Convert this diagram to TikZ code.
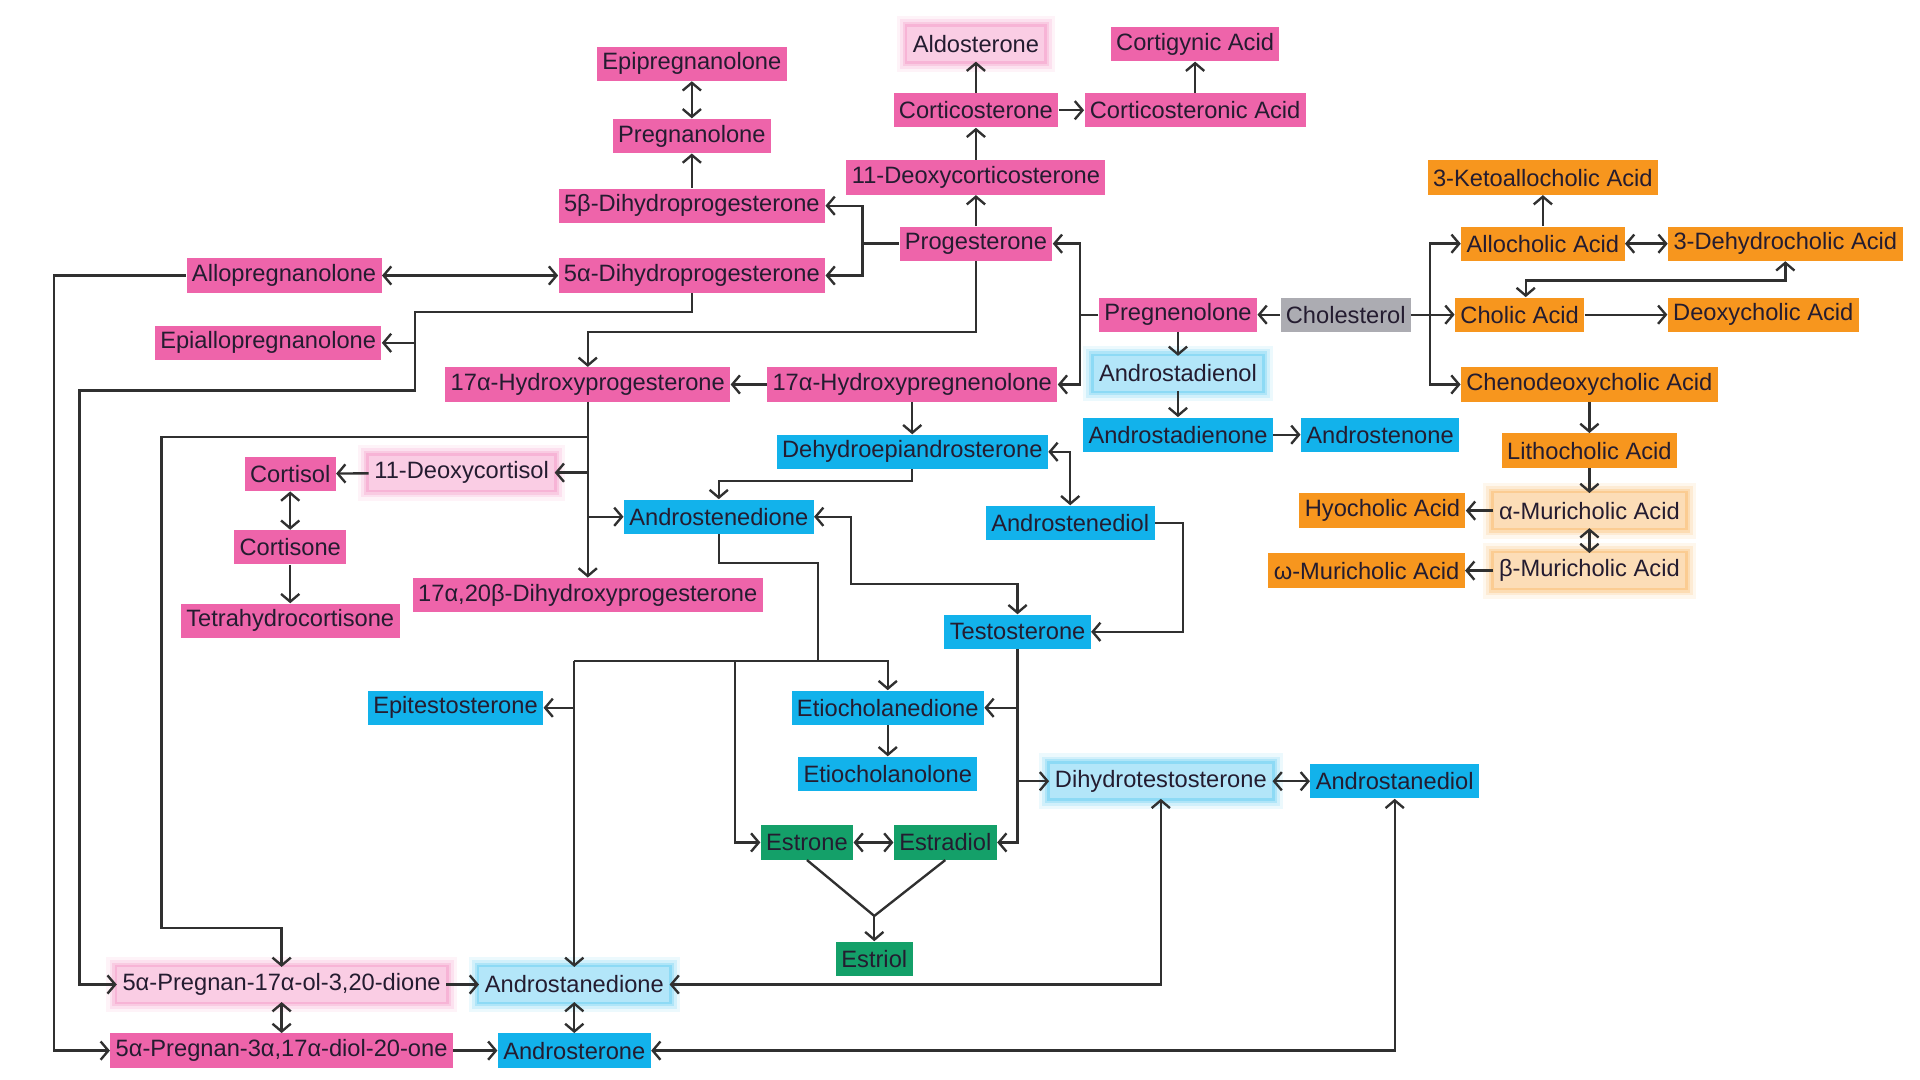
\documentclass[tikz,border=0pt]{standalone}
\usepackage{fontspec}
\setmainfont{Liberation Sans}
\usetikzlibrary{arrows.meta}
\definecolor{pinkc}{RGB}{238,100,170}
\definecolor{bluec}{RGB}{18,178,235}
\definecolor{orangec}{RGB}{247,150,30}
\definecolor{greenc}{RGB}{20,160,105}
\definecolor{grayc}{RGB}{172,172,178}
\definecolor{txtc}{RGB}{36,28,48}
\definecolor{linec}{RGB}{48,48,48}

\begin{document}
\begin{tikzpicture}[
        x = 0.02cm, y = -0.02cm,
        box/.style = {
            fill = #1,
            text = txtc,
            minimum height = 0.56cm,
            inner xsep = 2.5pt,
            inner ysep = 0pt,
            font = \fontsize{11}{13}\selectfont
        },
        glow/.style = {
            box = #1!32,
            preaction = {draw = #1, line width = 10pt, opacity = 0.08, rounded corners = 5pt},
            preaction = {draw = #1, line width = 7pt, opacity = 0.12, rounded corners = 4pt},
            preaction = {draw = #1, line width = 4.5pt, opacity = 0.18, rounded corners = 3pt},
            preaction = {draw = #1, line width = 2.5pt, opacity = 0.22, rounded corners = 2pt}
        },
        pk/.style = {box = pinkc},
        bl/.style = {box = bluec},
        orng/.style = {box = orangec},
        gn/.style = {box = greenc},
        gy/.style = {box = grayc},
        link/.style = {draw = linec, line width = 1.1pt},
        > = {Straight Barb[length=3.6pt, width=8.5pt]}
        ]
        \useasboundingbox (0,0) rectangle (1568,882);
%
        \node[pk] (epipreg) at (565,52) {Epipregnanolone};
        \node[pk] (pregnan) at (565,111) {Pregnanolone};
        \node[pk] (dhp5b) at (565,168) {5β-Dihydroprogesterone};
        \node[pk] (dhp5a) at (565,225) {5α-Dihydroprogesterone};
        \node[pk] (allopreg) at (232,225) {Allopregnanolone};
        \node[pk] (epiallo) at (219,280) {Epiallopregnanolone};
%
        \node[glow=pinkc] (aldo) at (797,36) {Aldosterone};
        \node[pk] (cortigyn) at (976,36) {Cortigynic Acid};
        \node[pk] (corticost) at (797,90) {Corticosterone};
        \node[pk] (cstacid) at (976,90) {Corticosteronic Acid};
        \node[pk] (doc) at (797,145) {11-Deoxycorticosterone};
        \node[pk] (prog) at (797,199) {Progesterone};
        \node[pk] (preg) at (962,257) {Pregnenolone};
        \node[gy] (chol) at (1099,257) {Cholesterol};
%
        \node[orng] (ketoallo) at (1260,145) {3-Ketoallocholic Acid};
        \node[orng] (allochol) at (1260,199) {Allocholic Acid};
        \node[orng] (dehydchol) at (1458,199) {3-Dehydrocholic Acid};
        \node[orng] (cholic) at (1241,257) {Cholic Acid};
        \node[orng] (deoxychol) at (1440,257) {Deoxycholic Acid};
        \node[orng] (cdca) at (1298,314) {Chenodeoxycholic Acid};
        \node[orng] (litho) at (1298,368) {Lithocholic Acid};
        \node[glow=orangec] (amuri) at (1298,417) {α-Muricholic Acid};
        \node[orng] (hyochol) at (1129,417) {Hyocholic Acid};
        \node[glow=orangec] (bmuri) at (1298,466) {β-Muricholic Acid};
        \node[orng] (wmuri) at (1116,466) {ω-Muricholic Acid};
%
        \node[glow=bluec] (adienol) at (962,305) {Androstadienol};
        \node[bl] (adienone) at (962,355) {Androstadienone};
        \node[bl] (astenone) at (1127,355) {Androstenone};
        \node[pk] (ohprog) at (480,314) {17α-Hydroxyprogesterone};
        \node[pk] (ohpreg) at (745,314) {17α-Hydroxypregnenolone};
        \node[bl] (dhea) at (745,369) {Dehydroepiandrosterone};
%
        \node[pk] (cortisol) at (237,387) {Cortisol};
        \node[glow=pinkc] (deoxycort) at (377,386) {11-Deoxycortisol};
        \node[pk] (cortisone) at (237,447) {Cortisone};
        \node[pk] (thcortis) at (237,507) {Tetrahydrocortisone};
        \node[pk] (dhprog) at (480,486) {17α,20β-Dihydroxyprogesterone};
%
        \node[bl] (adione) at (587,422) {Androstenedione};
        \node[bl] (adiol) at (874,427) {Androstenediol};
        \node[bl] (testo) at (831,516) {Testosterone};
        \node[bl] (epitesto) at (372,578) {Epitestosterone};
        \node[bl] (etiodione) at (725,578) {Etiocholanedione};
        \node[bl] (etiolone) at (725,632) {Etiocholanolone};
        \node[glow=bluec] (dht) at (948,638) {Dihydrotestosterone};
        \node[bl] (astdiol) at (1139,638) {Androstanediol};
%
        \node[gn] (estrone) at (659,688) {Estrone};
        \node[gn] (estradiol) at (772,688) {Estradiol};
        \node[gn] (estriol) at (714,783) {Estriol};
%
        \node[glow=pinkc] (pregdione) at (230,804) {5α-Pregnan-17α-ol-3,20-dione};
        \node[glow=bluec] (astdione) at (469,804) {Androstanedione};
        \node[pk] (pregdiol) at (230,858) {5α-Pregnan-3α,17α-diol-20-one};
        \node[bl] (asterone) at (469,858) {Androsterone};
%
% bends
        \coordinate (laneA) at (44,858);
        \coordinate (laneB) at (65,804);
        \coordinate (laneC) at (132,758);
        \coordinate (ja) at (339,255);
        \coordinate (jb) at (339,319);
        \coordinate (jc) at (480,271);
        \coordinate (jd) at (882,257);
        \coordinate (je) at (1168,257);
        \coordinate (jf) at (1246,229);
        \coordinate (jg) at (587,393);
        \coordinate (jh) at (874,369);
        \coordinate (ji) at (966,427);
        \coordinate (jj) at (695,422);
        \coordinate (jk) at (695,477);
        \coordinate (jl) at (480,357);
        \coordinate (jm) at (668,460);
        \coordinate (jn) at (668,540);
        \coordinate (jo) at (469,540);
        \coordinate (jp) at (725,540);
        \coordinate (jq) at (600,540);
        \coordinate (jr) at (714,748);
%
        \draw[link, <->] (epipreg) -- (pregnan);
        \draw[link, ->] (dhp5b) -- (pregnan);
        \draw[link, ->] (prog.west) -- ++(-30,0) |- (dhp5b);
        \draw[link, ->] (prog.west) ++(-30,0) |- (dhp5a);
        \draw[link, <->] (allopreg) -- (dhp5a);
        \draw[link, ->] (allopreg) -| (laneA) -- (pregdiol);
        \draw[link, ->] (dhp5a.south) |- (ja) -- (jb) -| (laneB) -- (pregdione);
        \draw[link, ->] (ja |- epiallo) -- (epiallo);
%
        \draw[link, ->] (prog) -- (doc);
        \draw[link, ->] (doc) -- (corticost);
        \draw[link, ->] (corticost) -- (aldo);
        \draw[link, ->] (corticost) -- (cstacid);
        \draw[link, ->] (cstacid) -- (cortigyn);
        \draw[link, ->] (prog.south) |- (jc) -- (ohprog);
        \draw[link, ->] (preg) -- (jd) |- (prog);
        \draw[link, ->] (jd) |- (ohpreg);
        \draw[link, ->] (chol) -- (preg);
        \draw[link, ->] (preg) -- (adienol);
        \draw[link, ->] (adienol) -- (adienone);
        \draw[link, ->] (adienone) -- (astenone);
%
        \draw[link] (chol) -- (je);
        \draw[link, ->] (je) |- (allochol);
        \draw[link, ->] (je) -- (cholic);
        \draw[link, ->] (je) |- (cdca);
        \draw[link, ->] (allochol) -- (ketoallo);
        \draw[link, <->] (allochol) -- (dehydchol);
        \draw[link, <->] (cholic.north -| jf) -- (jf) -| (dehydchol.south);
        \draw[link, ->] (cholic) -- (deoxychol);
        \draw[link, ->] (cdca) -- (litho);
        \draw[link, ->] (litho) -- (amuri);
        \draw[link, ->] (amuri) -- (hyochol);
        \draw[link, <->] (amuri) -- (bmuri);
        \draw[link, ->] (bmuri) -- (wmuri);
%
        \draw[link, ->] (ohpreg) -- (ohprog);
        \draw[link, ->] (ohpreg) -- (dhea);
        \draw[link, ->] (dhea.south) |- (jg) -- (adione);
        \draw[link, <->] (dhea) -- (jh) -- (adiol);
        \draw[link, ->] (adiol) -- (ji) |- (testo);
        \draw[link, <->] (adione) -- (jj) -- (jk) -| (testo);
%
        \draw[link, ->] (ohprog) -- (dhprog);
        \draw[link, ->] (jl) -| (laneC) -| (pregdione);
        \draw[link, ->] (ohprog.south |- deoxycort) -- (deoxycort);
        \draw[link, ->] (ohprog.south |- adione) -- (adione);
        \draw[link, ->] (deoxycort) -- (cortisol);
        \draw[link, <->] (cortisol) -- (cortisone);
        \draw[link, ->] (cortisone) -- (thcortis);
%
        \draw[link] (adione.south) |- (jm) -- (jn);
        \draw[link, ->] (jo) -- (jp) -- (etiodione);
        \draw[link, ->] (jo) -- (astdione);
        \draw[link, ->] (jo |- epitesto) -- (epitesto);
        \draw[link, ->] (jq) |- (estrone);
        \draw[link, ->] (testo.south) |- (estradiol);
        \draw[link, ->] (testo.south |- etiodione) -- (etiodione);
        \draw[link, ->] (testo.south |- dht) -- (dht);
        \draw[link, ->] (etiodione) -- (etiolone);
        \draw[link, <->] (estrone) -- (estradiol);
        \draw[link] (estrone.south) -- (jr) -- (estradiol.south);
        \draw[link, ->] (jr) -- (estriol);
        \draw[link, <->] (dht) -- (astdiol);
%
        \draw[link, <->] (astdione) -| (dht);
        \draw[link, <->] (asterone) -| (astdiol);
        \draw[link, ->] (pregdione) -- (astdione);
        \draw[link, ->] (pregdiol) -- (asterone);
        \draw[link, <->] (pregdione) -- (pregdiol);
        \draw[link, <->] (astdione) -- (asterone);
\end{tikzpicture}
\end{document}
